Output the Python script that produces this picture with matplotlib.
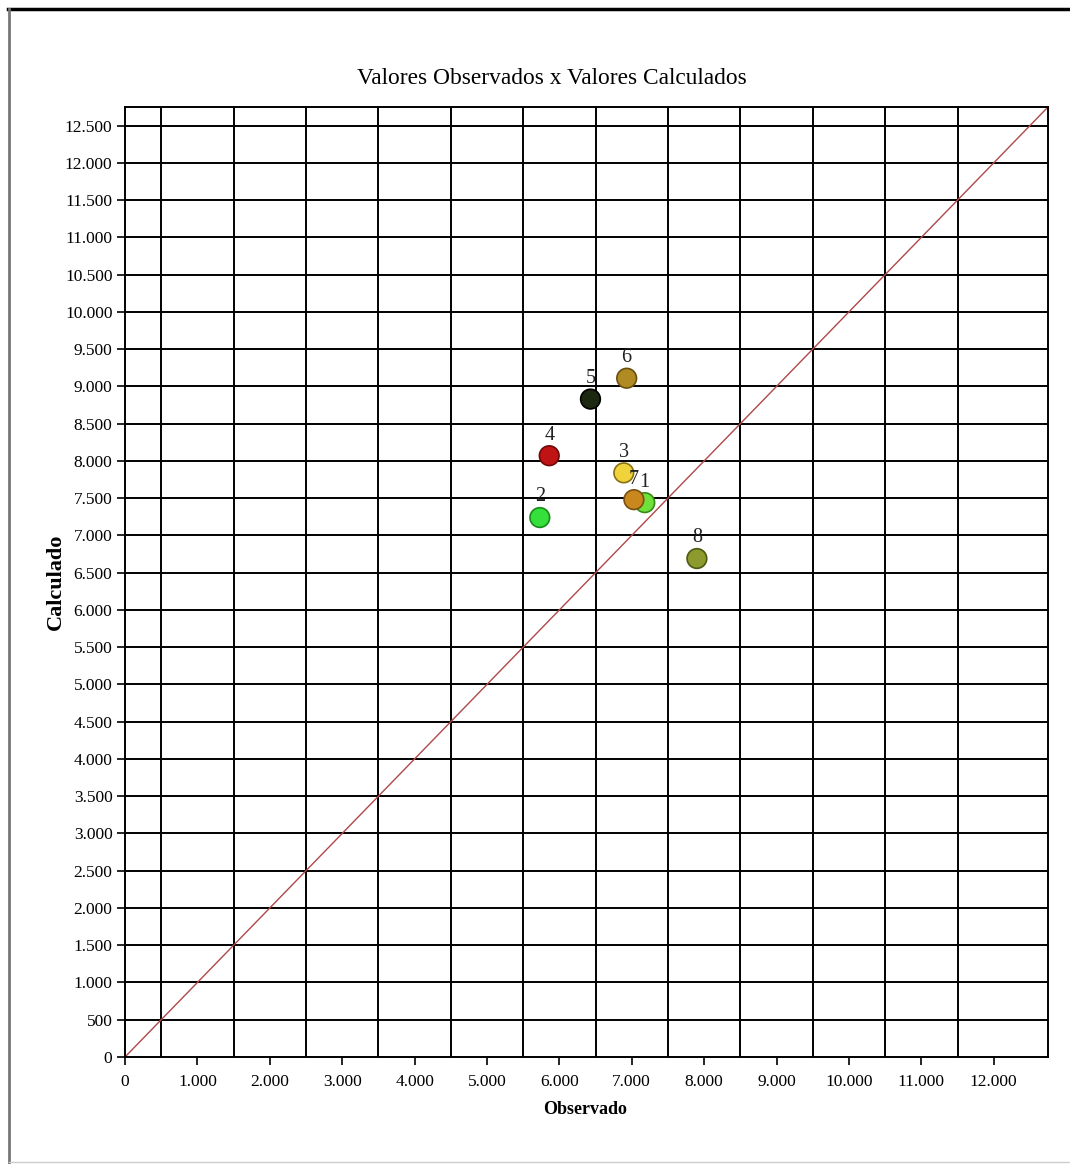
import matplotlib
matplotlib.use("Agg")
import matplotlib.pyplot as plt
from matplotlib.lines import Line2D
import numpy as np

labels = ["1", "2", "3", "4", "5", "6", "7", "8"]
observado = [7180, 5730, 6890, 5860, 6430, 6930, 7030, 7900]
calculado = [7440, 7240, 7840, 8070, 8830, 9110, 7480, 6690]
colors = ["#6ee23a", "#35e03a", "#f0d23a", "#c01414", "#1c2810", "#b08a22", "#c8881e", "#8c9a2e"]
edges = ["#3a8a1a", "#1a8a1a", "#8a7010", "#700808", "#000000", "#6a5010", "#7a5010", "#4a5a10"]

x_ticks = list(range(0, 12001, 1000))
y_ticks = list(range(0, 12501, 500))
x_grid = list(range(500, 12000, 1000))
axis_max = 12750

def fmt(v):
    return f"{v:,}".replace(",", ".")

plt.rcParams['font.family'] = ['Liberation Serif', 'DejaVu Serif']

fig = plt.figure(figsize=(10.70, 11.64), dpi=100)
ax = fig.add_axes([125/1070, 1-1057/1164, (1048-125)/1070, (1057-107)/1164])

ax.set_xlim(0, axis_max)
ax.set_ylim(0, axis_max)

# grid
for gx in x_grid:
    ax.axvline(gx, color="black", lw=1.4, zorder=1)
for gy in y_ticks[1:]:
    ax.axhline(gy, color="black", lw=1.4, zorder=1)

# identity line
ax.plot([0, axis_max], [0, axis_max], color="#b04848", lw=1.0, zorder=2)

# points
ax.scatter(observado, calculado, s=200, c=colors, edgecolors=edges, linewidths=1.2, zorder=4)
for lab, xv, yv in zip(labels, observado, calculado):
    ax.annotate(lab, (xv, yv), xytext=(0, 8), textcoords="offset points",
                ha="center", va="bottom", fontsize=14.5, color="#222222", zorder=5)

ax.set_xticks(x_ticks)
ax.set_xticklabels([fmt(v) for v in x_ticks])
ax.set_yticks(y_ticks)
ax.set_yticklabels([fmt(v) for v in y_ticks])
ax.tick_params(axis="both", direction="out", length=6, width=1.2, labelsize=12.5, colors="black")
ax.tick_params(axis="x", pad=6)
ax.tick_params(axis="y", pad=3)
for sp in ax.spines.values():
    sp.set_linewidth(1.4)
    sp.set_color("black")

fig.text(552/1070, 1-78/1164, "Valores Observados x Valores Calculados", ha="center", va="center", fontsize=16.8)
fig.text(585/1070, 1-1110/1164, "Observado", ha="center", va="center", fontsize=13, fontweight="bold")
fig.text(56/1070, 1-582/1164, "Calculado", ha="center", va="center", fontsize=16, fontweight="bold", rotation=90)

# outer frame lines
fig.add_artist(Line2D([8/1070, 1.0], [1-9/1164, 1-9/1164], color="black", lw=2.5, transform=fig.transFigure))
fig.add_artist(Line2D([9/1070, 9/1070], [1-9/1164, 0.0], color="#777777", lw=2.0, transform=fig.transFigure))
fig.add_artist(Line2D([9/1070, 1.0], [1-1162/1164, 1-1162/1164], color="#cccccc", lw=1.0, transform=fig.transFigure))

fig.savefig("out.png", dpi=100, facecolor="white")
